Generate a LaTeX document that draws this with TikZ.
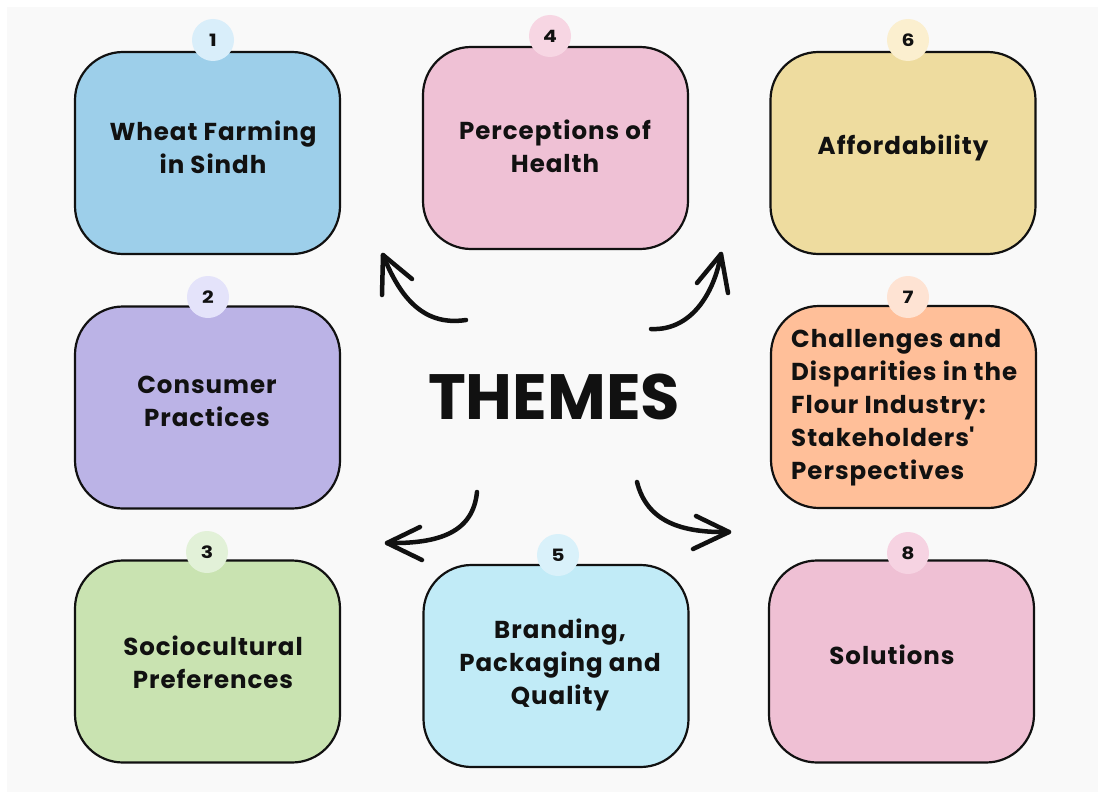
\documentclass[tikz,border=0pt]{standalone}
\usepackage{fontspec}
\setmainfont{Poppins}
\definecolor{bgc}{HTML}{F9F9F9}
\definecolor{ink}{HTML}{111111}
\definecolor{c1}{HTML}{9DCFEA}\definecolor{l1}{HTML}{D9EEFA}
\definecolor{c2}{HTML}{BBB3E6}\definecolor{l2}{HTML}{E4E3FA}
\definecolor{c3}{HTML}{C9E3B1}\definecolor{l3}{HTML}{E2F1D8}
\definecolor{c4}{HTML}{EFC1D5}\definecolor{l4}{HTML}{F7D6E3}
\definecolor{c5}{HTML}{C1EBF7}\definecolor{l5}{HTML}{D9F1FA}
\definecolor{c6}{HTML}{EEDC9F}\definecolor{l6}{HTML}{FBEFCF}
\definecolor{c7}{HTML}{FFBF99}\definecolor{l7}{HTML}{FEE3D3}
\definecolor{c8}{HTML}{EFC0D4}\definecolor{l8}{HTML}{F6D3E2}
\tikzset{
  themebox/.style={draw=ink, line width=2.2pt, rounded corners=48pt, minimum width=265pt, minimum height=202pt, inner sep=0pt},
  badge/.style={circle, minimum size=42pt, inner sep=0pt, text=ink, font=\fontsize{17}{17}\selectfont\bfseries},
  label/.style={text=ink, font=\fontsize{24.5}{33}\selectfont\bfseries\addfontfeatures{LetterSpace=4}, align=center, inner sep=0pt},
  curvy/.style={draw=ink, line width=4.5pt, line cap=round, line join=round}
}
\begin{document}
\begin{tikzpicture}[x=1pt,y=-1pt]
\useasboundingbox (0,0) rectangle (1098,792);
\fill[white] (0,0) rectangle (1098,792);
\fill[bgc] (7,7) rectangle (1098,792);
% boxes
\node[themebox, fill=c1] (b1) at (207.5,153) {};
\node[themebox, fill=c4] (b4) at (555.5,148) {};
\node[themebox, fill=c6] (b6) at (903,153) {};
\node[themebox, fill=c2] (b2) at (207.5,407.5) {};
\node[themebox, fill=c7] (b7) at (903.5,407) {};
\node[themebox, fill=c3] (b3) at (207.5,661.5) {};
\node[themebox, fill=c5] (b5) at (556,666) {};
\node[themebox, fill=c8] (b8) at (901.5,661.5) {};
% badges
\node[badge, fill=l1] (n1) at (213,40) {\scalebox{1.2}[1]{1}};
\node[badge, fill=l4] (n4) at (550,36) {\scalebox{1.2}[1]{4}};
\node[badge, fill=l6] (n6) at (908,40) {\scalebox{1.2}[1]{6}};
\node[badge, fill=l2] (n2) at (208,297) {\scalebox{1.2}[1]{2}};
\node[badge, fill=l7] (n7) at (908,297) {\scalebox{1.2}[1]{7}};
\node[badge, fill=l3] (n3) at (207,552) {\scalebox{1.2}[1]{3}};
\node[badge, fill=l5] (n5) at (558,555) {\scalebox{1.2}[1]{5}};
\node[badge, fill=l8] (n8) at (908,553) {\scalebox{1.2}[1]{8}};
% labels
\node[label] (t1) at (213,147) {Wheat Farming\\in Sindh};
\node[label] (t4) at (555,146) {Perceptions of\\Health};
\node[label] (t6) at (903,148) {Affordability};
\node[label] (t2) at (207,401) {Consumer\\Practices};
\node[label, align=left, anchor=west] (t7) at (791,408) {Challenges and\\Disparities in the\\Flour Industry:\\Stakeholders\textquotesingle\\Perspectives};
\node[label] (t3) at (213,662) {Sociocultural\\Preferences};
\node[label] (t5) at (560,665) {Branding,\\Packaging and\\Quality};
\node[label] (t8) at (892,655) {Solutions};
% title
\node[text=ink, font=\fontsize{64}{64}\selectfont\bfseries, inner sep=0pt] (th) at (554,397) {THEMES};
% arrows
\coordinate (s1) at (466,320); \coordinate (e1) at (383,255);
\coordinate (s2) at (651,329); \coordinate (e2) at (721,254);
\coordinate (s3) at (477,492); \coordinate (e3) at (387,543);
\coordinate (s4) at (637,482); \coordinate (e4) at (729,532);
\draw[curvy] (s1) .. controls (420,327) and (398,292) .. (e1);
\draw[curvy] (382,295) -- (e1) -- (412,279);
\draw[curvy] (s2) .. controls (690,331) and (714,295) .. (e2);
\draw[curvy] (697,283) -- (e2) -- (728,293);
\draw[curvy] (s3) .. controls (473,532) and (440,544) .. (e3);
\draw[curvy] (420,527) -- (e3) -- (422,560);
\draw[curvy] (s4) .. controls (647,522) and (682,533) .. (e4);
\draw[curvy] (696,516) -- (e4) -- (693,549);
\end{tikzpicture}
\end{document}
